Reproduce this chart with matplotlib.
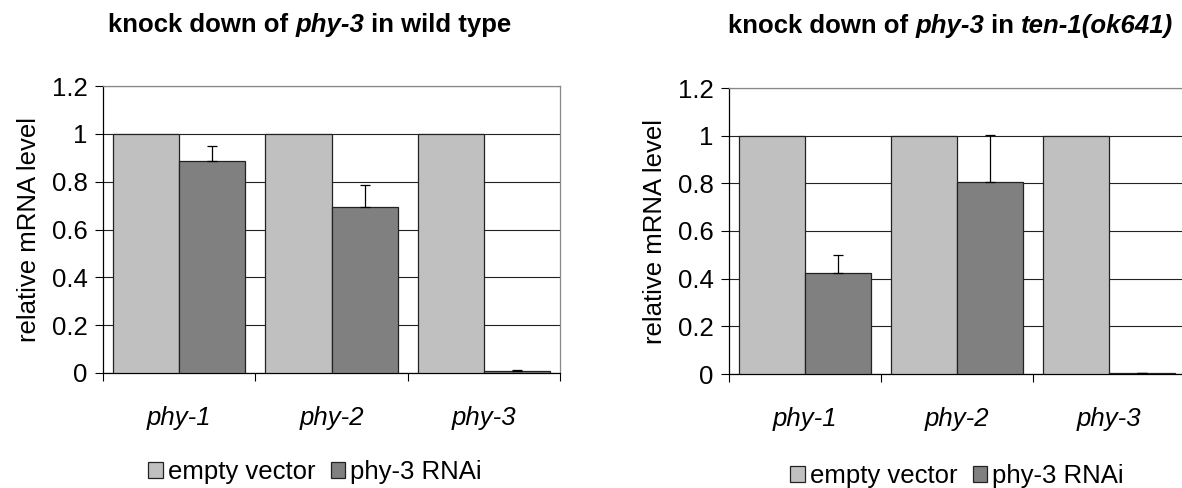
import matplotlib
matplotlib.use("Agg")
import matplotlib.pyplot as plt
import numpy as np

plt.rcParams['font.family'] = ['Liberation Sans', 'DejaVu Sans']

genes = ['phy-1', 'phy-2', 'phy-3']
series = ['empty vector', 'phy-3 RNAi']
yticks = [0, 0.2, 0.4, 0.6, 0.8, 1, 1.2]
ytick_labels = ['0', '0.2', '0.4', '0.6', '0.8', '1', '1.2']

# wild type
wt_empty = [1.0, 1.0, 1.0]
wt_rnai = [0.885, 0.695, 0.01]
wt_rnai_err = [0.065, 0.092, 0.002]

# ten-1(ok641)
ten_empty = [1.0, 1.0, 1.0]
ten_rnai = [0.425, 0.806, 0.003]
ten_rnai_err = [0.073, 0.198, 0.001]

light = '#c0c0c0'
dark = '#808080'
FS = 18.5

W, H = 1182, 488
fig = plt.figure(figsize=(W / 100, H / 100), dpi=100)


def panel(rect, empty, rnai, err):
    ax = fig.add_axes(rect)
    x = np.arange(len(genes))
    w = 0.435
    ax.bar(x - w / 2, empty, w, color=light, edgecolor='#222222', linewidth=0.9, zorder=3)
    ax.bar(x + w / 2, rnai, w, color=dark, edgecolor='#222222', linewidth=0.9, zorder=3)
    ax.errorbar(x + w / 2, rnai, yerr=[np.zeros(len(err)), err], fmt='none',
                ecolor='black', elinewidth=0.9, capsize=3.3, capthick=0.9, zorder=4)
    ax.set_xlim(-0.5, len(genes) - 0.5)
    ax.set_ylim(0, 1.2)
    ax.set_yticks(yticks)
    ax.set_yticklabels(ytick_labels, fontsize=FS)
    ax.yaxis.grid(True, color='#222222', linewidth=0.8, zorder=0)
    ax.set_axisbelow(True)
    ax.set_xticks(x)
    ax.set_xticklabels(genes, fontsize=FS, style='italic')
    ax.set_xticks(np.arange(len(genes) + 1) - 0.5, minor=True)
    ax.tick_params(axis='x', which='major', length=0, pad=24)
    ax.tick_params(axis='x', which='minor', length=6, width=0.8, direction='out')
    ax.tick_params(axis='y', length=6, width=0.8, direction='out', pad=5)
    for s in ['top', 'right']:
        ax.spines[s].set_color('#888888')
        ax.spines[s].set_linewidth(0.9)
    for s in ['left', 'bottom']:
        ax.spines[s].set_color('black')
        ax.spines[s].set_linewidth(0.9)
    ax.set_ylabel('relative mRNA level', fontsize=FS, labelpad=8)
    return ax


ax1 = panel([103 / W, 1 - 373 / H, 457 / W, 287 / H], wt_empty, wt_rnai, wt_rnai_err)
ax2 = panel([729 / W, 1 - 374 / H, 456 / W, 286 / H], ten_empty, ten_rnai, ten_rnai_err)

renderer = fig.canvas.get_renderer()


def mixed_title(x0, y, parts, size=FS):
    # draw a title made of bold / bold-italic pieces one after another
    x = x0
    for txt, st in parts:
        t = fig.text(x, y, txt, fontsize=size, fontweight='bold', style=st,
                     ha='left', va='center')
        bb = t.get_window_extent(renderer)
        x += bb.width / W


mixed_title(108 / W, 1 - 25 / H, [('knock down of ', 'normal'), ('phy-3', 'italic'),
                                   (' in wild type', 'normal')])
mixed_title(728 / W, 1 - 26 / H, [('knock down of ', 'normal'), ('phy-3', 'italic'),
                                   (' in ', 'normal'), ('ten-1(ok641)', 'italic')])

handles = [plt.Rectangle((0, 0), 1, 1, facecolor=c, edgecolor='#222222', linewidth=0.9)
           for c in [light, dark]]
for cx, cy in [(315 / W, 1 - 472 / H), (957 / W, 1 - 476 / H)]:
    fig.legend(handles, series, loc='center', bbox_to_anchor=(cx, cy), ncol=2,
               frameon=False, fontsize=FS, handlelength=0.55, handleheight=0.55,
               handletextpad=0.2, columnspacing=0.6, borderaxespad=0)

fig.savefig('out.png', dpi=100)
